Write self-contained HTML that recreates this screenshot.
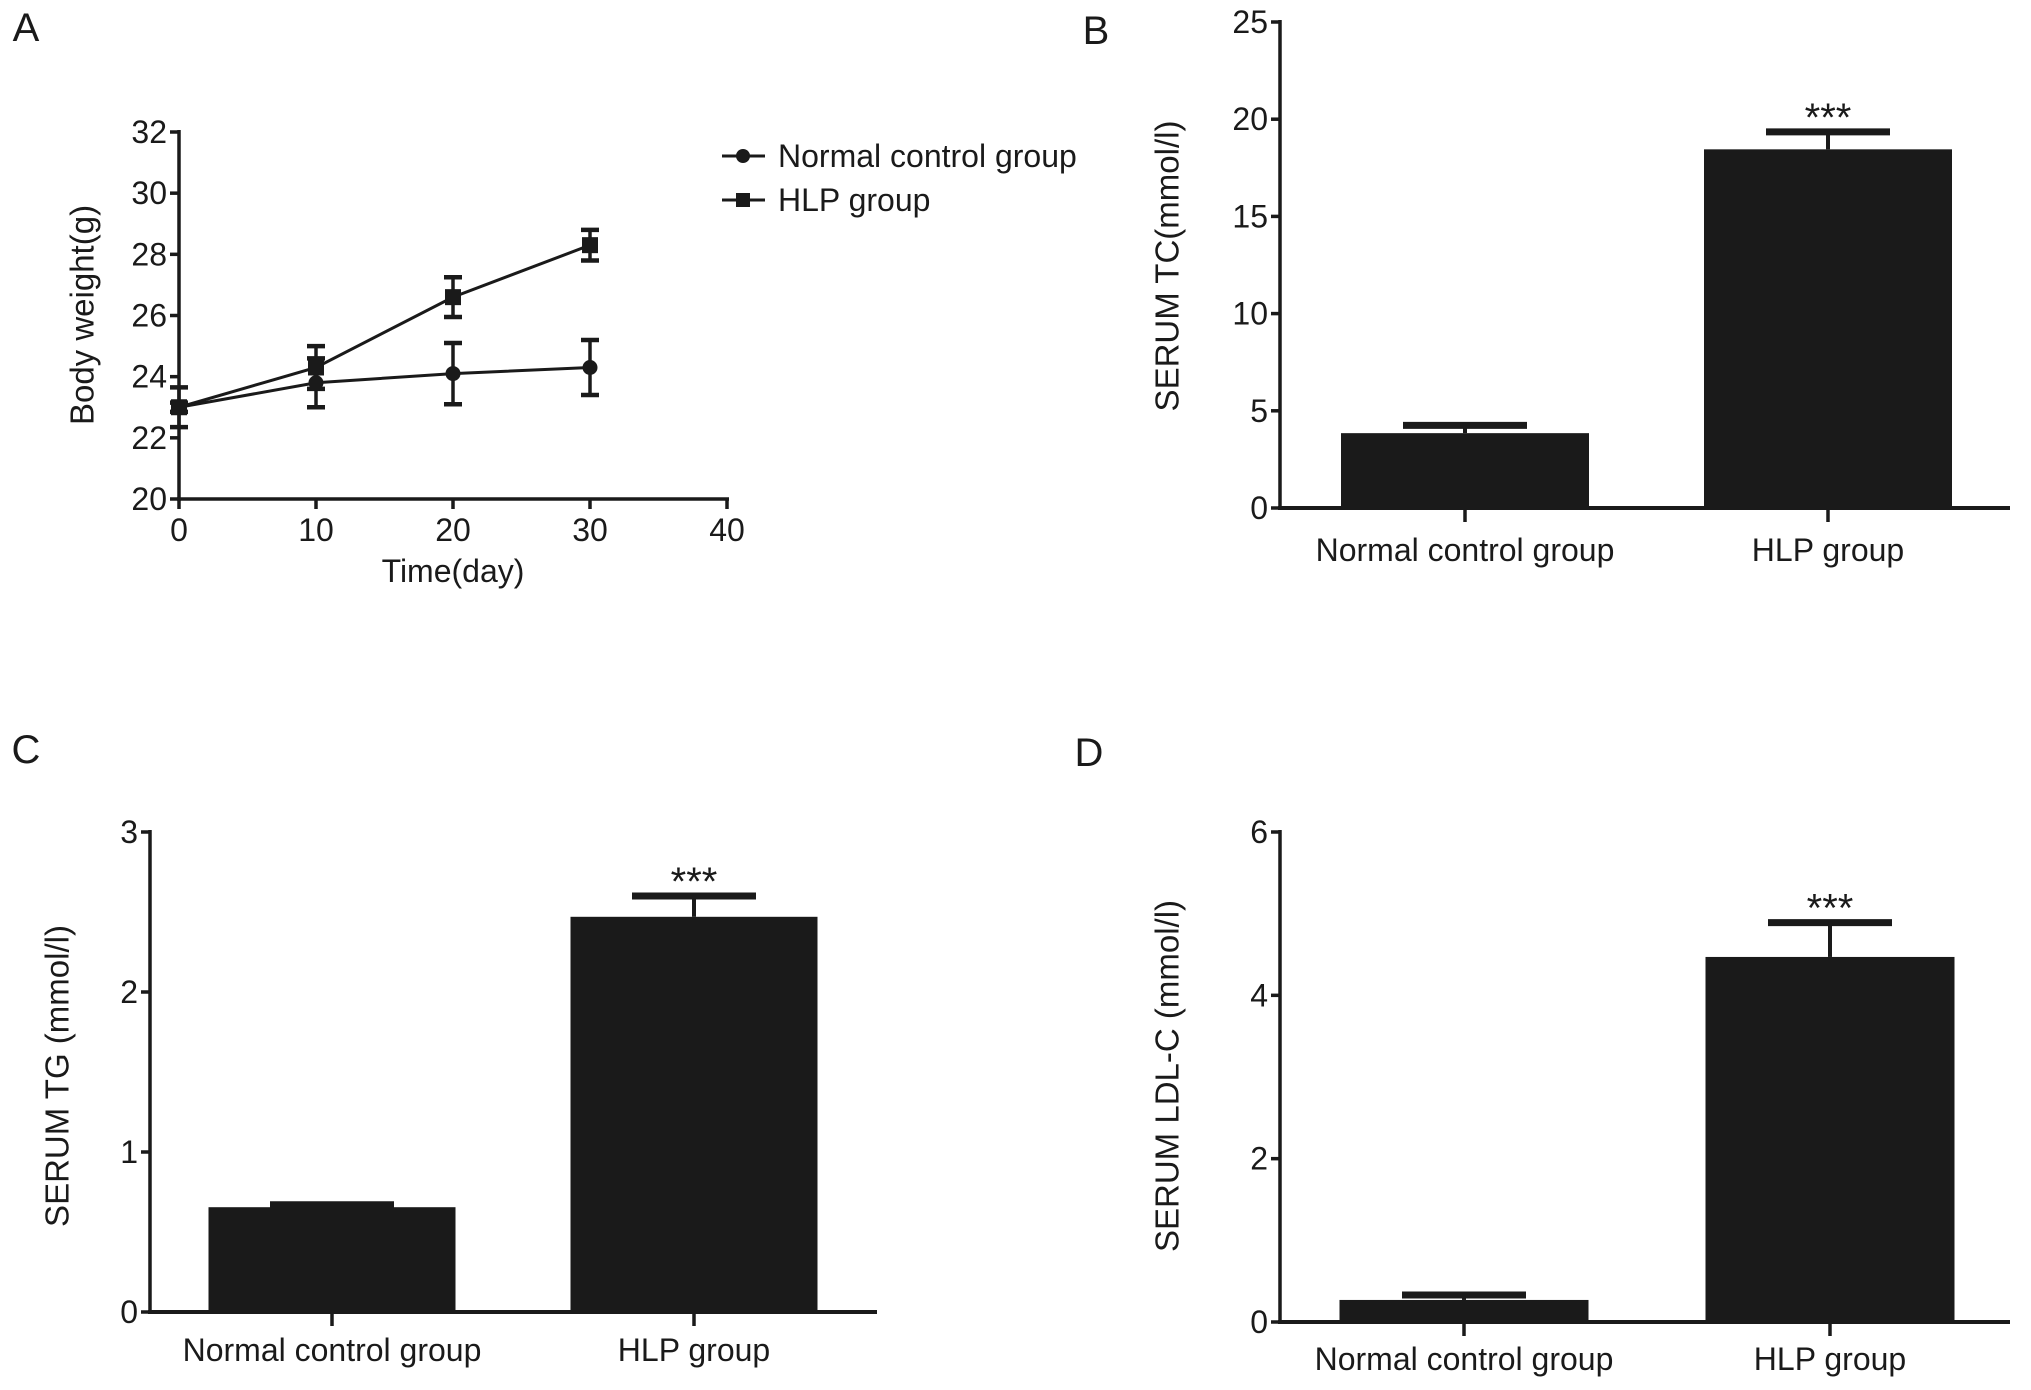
<!DOCTYPE html>
<html><head><meta charset="utf-8"><style>
html,body{margin:0;padding:0;background:#fff}
svg{display:block}
.n{font-family:"Liberation Sans",sans-serif;fill:#1a1a1a}
.t{font-family:"Liberation Sans",sans-serif;fill:#1a1a1a}
</style></head><body>
<svg id="fig" width="2031" height="1390" viewBox="0 0 2031 1390" xmlns="http://www.w3.org/2000/svg"></svg>
<script>
// Panel A data
const daysA = [0, 10, 20, 30];
const normalA = [23.0, 23.8, 24.1, 24.3];
const normalErrA = [0.15, 0.8, 1.0, 0.9];
const hlpA = [23.0, 24.3, 26.6, 28.3];
const hlpErrA = [0.65, 0.7, 0.65, 0.5];
const xTicksA = [0, 10, 20, 30, 40];
const yTicksA = [20, 22, 24, 26, 28, 30, 32];
// Bar panels
const categories = ["Normal control group", "HLP group"];
const tcValues = [3.85, 18.45];
const tcErr = [0.4, 0.9];
const tcTicks = [0, 5, 10, 15, 20, 25];
const tgValues = [0.655, 2.47];
const tgErr = [0.015, 0.13];
const tgTicks = [0, 1, 2, 3];
const ldlValues = [0.27, 4.47];
const ldlErr = [0.06, 0.42];
const ldlTicks = [0, 2, 4, 6];

const svg = document.getElementById('fig');
const NS = 'http://www.w3.org/2000/svg';
const C = '#1a1a1a';
function mk(tag, attrs, parent){
  const e = document.createElementNS(NS, tag);
  for (const k in attrs) e.setAttribute(k, attrs[k]);
  (parent || svg).appendChild(e);
  return e;
}
function line(x1,y1,x2,y2,w,p){return mk('line',{x1,y1,x2,y2,stroke:C,'stroke-width':w,'stroke-linecap':'butt'},p);}
function text(x,y,s,cls,size,anchor,p){const t=mk('text',{x,y,'class':cls,'font-size':size,'text-anchor':anchor||'middle','dominant-baseline':'central'},p);t.textContent=s;return t;}

// panel letters
[['A',26,28],['B',1096,31],['C',26,750],['D',1089,753]].forEach(l=>{
  const t=text(l[1],l[2],l[0],'t',40,'middle');
  
  
});

// ---------- Panel A ----------
(function(){
  const g = mk('g',{});
  
  
  const x0=179,x1=727,y0=499,y1=132;
  const xs=v=>x0+(v-0)/(40-0)*(x1-x0);
  const ys=v=>y0-(v-20)/(32-20)*(y0-y1);
  const ax=mk('g',{},g);
  
  
  line(x0,y1-2,x0,y0+2,3.5,ax);
  yTicksA.forEach(v=>{line(x0-9,ys(v),x0,ys(v),3.5,ax);text(x0-12,ys(v),String(v),'n',32,'end',ax);});
  const bx=mk('g',{},g);
  
  
  line(x0-2,y0,x1+2,y0,3.5,bx);
  xTicksA.forEach(v=>{line(xs(v),y0,xs(v),y0+10,3.5,bx);text(xs(v),530,String(v),'n',32,'middle',bx);});
  const xt=text(453,571,'Time(day)','n',32,'middle',g);
  
  
  const yt=text(0,0,'Body weight(g)','t',33,'middle',g);
  yt.setAttribute('transform','translate(82,315) rotate(-90)');
  
  
  function series(vals,errs,marker,name){
    const sg=mk('g',{},g);
    
    
    mk('polyline',{points:vals.map((v,i)=>xs(daysA[i])+','+ys(v)).join(' '),fill:'none',stroke:C,'stroke-width':3},sg);
    vals.forEach((v,i)=>{
      const x=xs(daysA[i]);
      line(x,ys(v-errs[i]),x,ys(v+errs[i]),3.5,sg);
      line(x-9,ys(v+errs[i]),x+9,ys(v+errs[i]),4.5,sg);
      line(x-9,ys(v-errs[i]),x+9,ys(v-errs[i]),4.5,sg);
      if(marker==='c') mk('circle',{cx:x,cy:ys(v),r:7.5,fill:C},sg);
      else mk('rect',{x:x-8,y:ys(v)-8,width:16,height:16,fill:C},sg);
    });
  }
  series(normalA,normalErrA,'c','series-normal-control');
  series(hlpA,hlpErrA,'s','series-hlp');
  const lg=mk('g',{},g);
  
  
  [['Normal control group',156,'c'],['HLP group',200,'s']].forEach(e=>{
    const eg=mk('g',{},lg);
    
    
    line(722,e[1],765,e[1],3,eg);
    if(e[2]==='c') mk('circle',{cx:743,cy:e[1],r:7,fill:C},eg);
    else mk('rect',{x:736,y:e[1]-7,width:14,height:14,fill:C},eg);
    text(778,e[1],e[0],'n',32,'start',eg);
  });
})();

// ---------- Bar panels ----------
function barPanel(o){
  const g=mk('g',{});
  
  
  const ymax=o.ticks[o.ticks.length-1];
  const ys=v=>o.y0-v/ymax*(o.y0-o.y1);
  const ax=mk('g',{},g);
  
  
  line(o.x0,o.y1-2,o.x0,o.y0+2,3.5,ax);
  o.ticks.forEach(v=>{line(o.x0-9,ys(v),o.x0,ys(v),3.5,ax);text(o.x0-12,ys(v),String(v),'n',32,'end',ax);});
  const bw=o.bw, centers=o.centers;
  o.values.forEach((v,i)=>{
    const c=centers[i];
    const eg=mk('g',{},g);
    
    
    line(c,ys(v),c,ys(v+o.err[i]),4,eg);
    line(c-62,ys(v+o.err[i]),c+62,ys(v+o.err[i]),7,eg);
    const r=mk('rect',{x:c-bw/2,y:ys(v),width:bw,height:o.y0-ys(v),fill:C},g);
    
    
    if(i===1){
      const s=text(c,ys(v+o.err[i])-14,'***','t',40,'middle',g);
      
      
    }
  });
  const bx=mk('g',{},g);
  
  
  line(o.x0-2,o.y0,o.x1,o.y0,4,bx);
  categories.forEach((cname,i)=>{
    line(centers[i],o.y0,centers[i],o.y0+14,3.5,bx);
    text(centers[i],o.labY,cname,'n',32,'middle',bx);
  });
  const yt=text(0,0,o.title,'t',33,'middle',g);
  yt.setAttribute('transform','translate('+o.tx+','+o.ty+') rotate(-90)');
  
  
}
barPanel({name:'panel-b-serum-tc',x0:1280,x1:2010,y0:508,y1:22,ticks:tcTicks,values:tcValues,err:tcErr,
  centers:[1465,1828],bw:248,labY:550,title:'SERUM TC(mmol/l)',tx:1167,ty:266});
barPanel({name:'panel-c-serum-tg',x0:150,x1:877,y0:1312,y1:832,ticks:tgTicks,values:tgValues,err:tgErr,
  centers:[332,694],bw:247,labY:1350,title:'SERUM TG (mmol/l)',tx:57,ty:1076});
barPanel({name:'panel-d-serum-ldl-c',x0:1280,x1:2010,y0:1322,y1:832,ticks:ldlTicks,values:ldlValues,err:ldlErr,
  centers:[1464,1830],bw:249,labY:1359,title:'SERUM LDL-C (mmol/l)',tx:1167,ty:1076});
</script>
</body></html>
